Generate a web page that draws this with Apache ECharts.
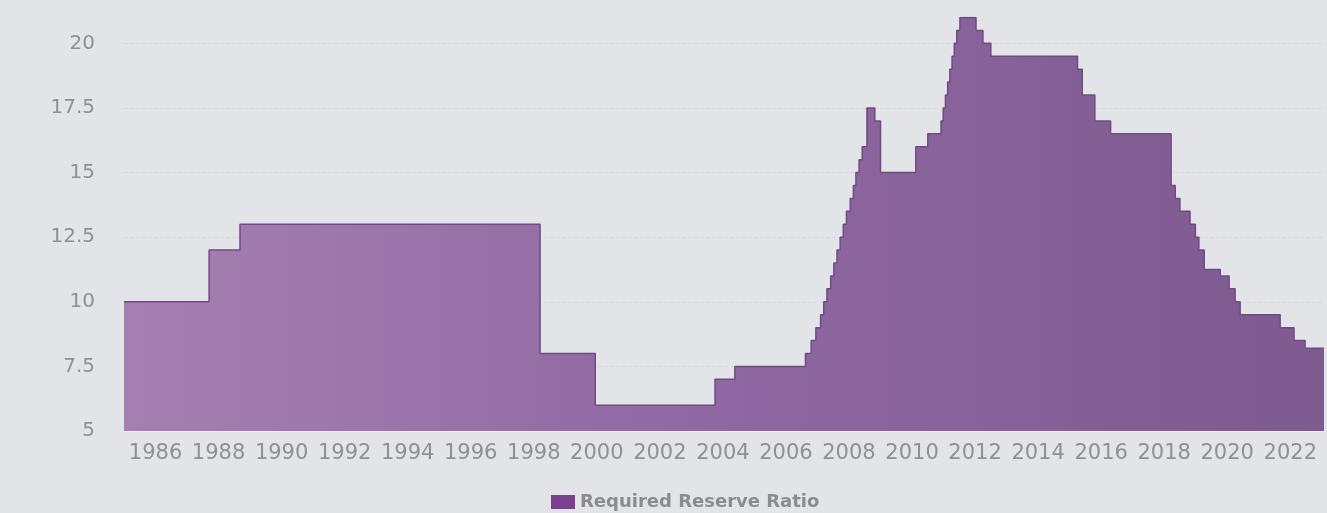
<!DOCTYPE html>
<html>
<head>
<meta charset="utf-8">
<script src="https://cdn.jsdelivr.net/npm/echarts@6/dist/echarts.min.js"></script>
<style>
html,body{margin:0;padding:0;background:#e2e4e7;}
#c{width:1327px;height:513px;}
</style>
</head>
<body>
<div id="c"></div>
<script>
// Dates (decimal years) at which the ratio changed, and the new ratio (%)
const changeYears = [1985, 1987.7, 1988.68, 1998.2, 1999.95, 2003.75, 2004.38,
  2006.62, 2006.8, 2006.95, 2007.1, 2007.2, 2007.3, 2007.42, 2007.52, 2007.62, 2007.72, 2007.82, 2007.92,
  2008.04, 2008.14, 2008.22, 2008.32, 2008.42, 2008.57, 2008.82, 2009.0,
  2010.12, 2010.5, 2010.92, 2010.99, 2011.06, 2011.13, 2011.2, 2011.27, 2011.34, 2011.42, 2011.52,
  2012.03, 2012.25, 2012.5,
  2015.25, 2015.4, 2015.8, 2016.3,
  2018.22, 2018.35, 2018.5, 2018.82, 2018.99, 2019.1, 2019.27, 2019.78, 2020.06, 2020.25, 2020.41,
  2021.68, 2022.12, 2022.47, 2023.07];
const ratios = [10, 12, 13, 8, 6, 7, 7.5,
  8, 8.5, 9, 9.5, 10, 10.5, 11, 11.5, 12, 12.5, 13, 13.5,
  14, 14.5, 15, 15.5, 16, 17.5, 17, 15,
  16, 16.5, 17, 17.5, 18, 18.5, 19, 19.5, 20, 20.5, 21,
  20.5, 20, 19.5,
  19, 18, 17, 16.5,
  14.5, 14, 13.5, 13, 12.5, 12, 11.25, 11, 10.5, 10, 9.5,
  9, 8.5, 8.2, 8.2];
const seriesName = 'Required Reserve Ratio';

const chart = echarts.init(document.getElementById('c'));
const font = 'DejaVu Sans';
chart.setOption({
  animation: false,
  backgroundColor: '#e2e4e7',
  grid: {left: 124, right: 0, top: 17.5, bottom: 82},
  legend: {
    left: 551, top: 493, padding: 0,
    itemWidth: 24, itemHeight: 14, itemGap: 6,
    icon: 'rect',
    textStyle: {fontFamily: font, fontSize: 18, fontWeight: 'bold', color: '#8a8c8f'},
    data: [{name: seriesName, itemStyle: {color: '#7a4190'}}]
  },
  xAxis: {
    type: 'value', min: 1985, max: 2023.07, interval: 1,
    axisLine: {show: true, lineStyle: {color: '#eceef0', width: 1}},
    axisTick: {show: false},
    splitLine: {show: false},
    axisLabel: {
      fontFamily: font, fontSize: 21, color: '#8e9093', margin: 12,
      formatter: v => (Number.isInteger(v) && v % 2 === 0) ? String(v) : ''
    }
  },
  yAxis: {
    type: 'value', min: 5, max: 21, interval: 2.5,
    axisLine: {show: false}, axisTick: {show: false},
    splitLine: {show: true, showMaxLine: false, lineStyle: {color: '#d6d8dc', type: 'dashed', width: 1}},
    axisLabel: {
      fontFamily: font, fontSize: 20, color: '#8e9093', margin: 29,
      formatter: v => (v % 2.5 === 0) ? String(v) : ''
    }
  },
  series: [{
    name: seriesName,
    type: 'line',
    step: 'end',
    symbol: 'none',
    data: changeYears.map((y, i) => [y, ratios[i]]),
    lineStyle: {color: '#714a84', width: 1.5},
    itemStyle: {color: '#7a4190'},
    areaStyle: {
      origin: 'start', opacity: 1,
      color: new echarts.graphic.LinearGradient(0, 0, 1, 0, [
        {offset: 0, color: '#a67fb2'},
        {offset: 0.5, color: '#8f67a2'},
        {offset: 1, color: '#7d5a8f'}
      ])
    }
  }]
});
</script>
</body>
</html>
